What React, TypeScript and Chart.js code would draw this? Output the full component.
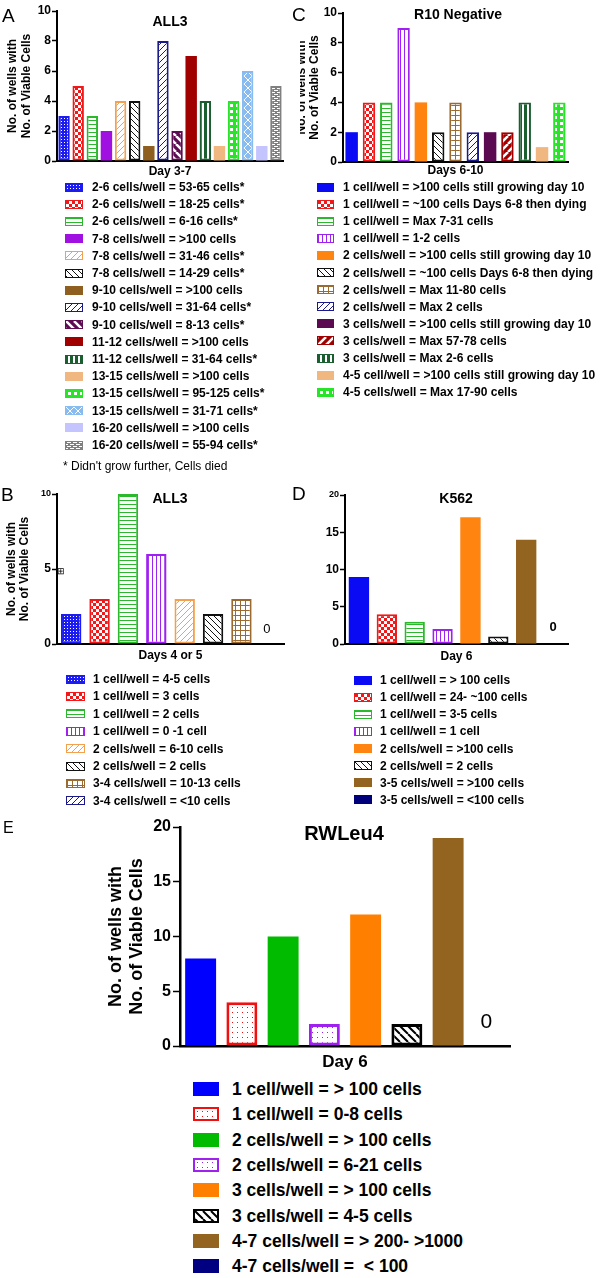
import React, { useEffect, useMemo, useRef } from 'react';
import { Chart, registerables } from 'chart.js';

Chart.register(...registerables);

const FONT = 'Arial, "Liberation Sans", Helvetica, sans-serif';
Chart.defaults.font.family = FONT;
Chart.defaults.color = '#000';

// ---------------- Panel A (ALL3, Day 3-7) ----------------
const aLabels = [
  '2-6 cells/well = 53-65 cells*',
  '2-6 cells/well = 18-25 cells*',
  '2-6 cells/well = 6-16 cells*',
  '7-8 cells/well = >100 cells',
  '7-8 cells/well = 31-46 cells*',
  '7-8 cells/well = 14-29 cells*',
  '9-10 cells/well = >100 cells',
  '9-10 cells/well = 31-64 cells*',
  '9-10 cells/well = 8-13 cells*',
  '11-12 cells/well = >100 cells',
  '11-12 cells/well = 31-64 cells*',
  '13-15 cells/well = >100 cells',
  '13-15 cells/well = 95-125 cells*',
  '13-15 cells/well = 31-71 cells*',
  '16-20 cells/well = >100 cells',
  '16-20 cells/well = 55-94 cells*',
];
const aValues = [3, 5, 3, 2, 4, 4, 1, 8, 2, 7, 4, 1, 4, 6, 1, 5];
const aColors = ['#1c1cf0', '#f01818', '#2cb82c', '#a010e0', '#f5a04a', '#111111', '#8f5f1f', '#1a1a8a',
  '#5e0d52', '#a00000', '#1b5e30', '#f0b880', '#28e428', '#88bbf0', '#c4c4ff', '#808080'];
const aPatterns = ['fineDots', 'checker', 'hlines', 'solid', 'diagR', 'diagL', 'solid', 'diagR',
  'thickDiagL', 'solid', 'vstripes', 'solid', 'gridThick', 'diamond', 'solid', 'brick'];

// ---------------- Panel C (R10 Negative, Days 6-10) ----------------
const cLabels = [
  '1 cell/well = >100 cells still growing day 10',
  '1 cell/well = ~100 cells Days 6-8 then dying',
  '1 cell/well = Max 7-31 cells',
  '1 cell/well = 1-2 cells',
  '2 cells/well = >100 cells still growing day 10',
  '2 cells/well = ~100 cells Days 6-8 then dying',
  '2 cells/well = Max 11-80 cells',
  '2 cells/well = Max 2 cells',
  '3 cells/well = >100 cells still growing day 10',
  '3 cells/well = Max 57-78 cells',
  '3 cells/well = Max 2-6 cells',
  '4-5 cell/well = >100 cells still growing day 10',
  '4-5 cells/well = Max 17-90 cells',
];
const cValues = [2, 4, 4, 9, 4, 2, 4, 2, 2, 2, 4, 1, 4];
const cColors = ['#0a0af5', '#f01818', '#2cb82c', '#a020f0', '#ff8410', '#111111', '#9a6a30', '#1a1a8a',
  '#5b0950', '#a00000', '#1b5e30', '#f0b880', '#28e428'];
const cPatterns = ['solid', 'checker', 'hlines', 'vlines', 'solid', 'diagL', 'gridThin', 'diagR',
  'solid', 'thickDiagR', 'vstripes', 'solid', 'gridThick'];

// ---------------- Panel B (ALL3, Days 4 or 5) ----------------
const bLabels = [
  '1 cell/well = 4-5 cells',
  '1 cell/well = 3 cells',
  '1 cell/well = 2 cells',
  '1 cell/well = 0 -1 cell',
  '2 cells/well = 6-10 cells',
  '2 cells/well = 2 cells',
  '3-4 cells/well = 10-13 cells',
  '3-4 cells/well = <10 cells',
];
const bValues = [2, 3, 10, 6, 3, 2, 3, 0];
const bColors = ['#1c1cf0', '#f01818', '#2cb82c', '#a020f0', '#f5a04a', '#111111', '#9a6a30', '#1a1a8a'];
const bPatterns = ['fineDots', 'checker', 'hlines', 'vlines', 'diagR', 'diagL', 'gridThin', 'diagR'];

// ---------------- Panel D (K562, Day 6) ----------------
const dLabels = [
  '1 cell/well = > 100 cells',
  '1 cell/well = 24- ~100 cells',
  '1 cell/well = 3-5 cells',
  '1 cell/well = 1 cell',
  '2 cells/well = >100 cells',
  '2 cells/well = 2 cells',
  '3-5 cells/well = >100 cells',
  '3-5 cells/well = <100 cells',
];
const dValues = [9, 4, 3, 2, 17, 1, 14, 0];
const dColors = ['#0a0af5', '#f01818', '#2cb82c', '#a020f0', '#ff8410', '#111111', '#936420', '#00007a'];
const dPatterns = ['solid', 'checker', 'hlines', 'vlines', 'solid', 'diagL', 'solid', 'solid'];

// ---------------- Panel E (RWLeu4, Day 6) ----------------
const eLabels = [
  '1 cell/well = > 100 cells',
  '1 cell/well = 0-8 cells',
  '2 cells/well = > 100 cells',
  '2 cells/well = 6-21 cells',
  '3 cells/well = > 100 cells',
  '3 cells/well = 4-5 cells',
  '4-7 cells/well = > 200- >1000',
  '4-7 cells/well =  < 100',
];
const eValues = [8, 4, 10, 2, 12, 2, 19, 0];
const eColors = ['#0000ff', '#f01010', '#00bb00', '#a020f0', '#ff8000', '#000000', '#936420', '#000080'];
const ePatterns = ['solid', 'sparseDots', 'solid', 'sparseDots', 'solid', 'diagLBold', 'solid', 'solid'];

const yTitleLines = ['No. of wells with', 'No. of Viable Cells'];

// ---------------- pattern tiles ----------------
function makeTile(p: string, color: string): HTMLCanvasElement {
  const sizes: Record<string, [number, number]> = {
    solid: [4, 4], fineDots: [3, 3], checker: [6, 6], hlines: [4, 4], vlines: [4, 4],
    diagR: [6, 6], diagL: [6, 6], diagLBold: [8, 8], thickDiagL: [8, 8], thickDiagR: [8, 8],
    gridThin: [5, 5], gridThick: [6, 6], vstripes: [5, 5], diamond: [8, 8], brick: [6, 4], sparseDots: [5, 5],
  };
  const [w, h] = sizes[p] || [4, 4];
  const c = document.createElement('canvas');
  c.width = w;
  c.height = h;
  const g = c.getContext('2d')!;
  const fill = (col: string, x: number, y: number, ww: number, hh: number) => {
    g.fillStyle = col;
    g.fillRect(x, y, ww, hh);
  };
  const back = (col: string, lw: number) => {
    g.strokeStyle = col; g.lineWidth = lw; g.beginPath();
    for (const k of [-1, 0, 1]) { g.moveTo(k * w, 0); g.lineTo(k * w + w, h); }
    g.stroke();
  };
  const fwd = (col: string, lw: number) => {
    g.strokeStyle = col; g.lineWidth = lw; g.beginPath();
    for (const k of [-1, 0, 1]) { g.moveTo(k * w, h); g.lineTo(k * w + w, 0); }
    g.stroke();
  };
  switch (p) {
    case 'fineDots': fill(color, 0, 0, w, h); fill('#ffffff', 1, 1, 1, 1); break;
    case 'checker': fill('#ffffff', 0, 0, w, h); fill(color, 0, 0, 3, 3); fill(color, 3, 3, 3, 3); break;
    case 'hlines': fill('#ffffff', 0, 0, w, h); fill(color, 0, 0, w, 1); break;
    case 'vlines': fill('#ffffff', 0, 0, w, h); fill(color, 0, 0, 1, h); break;
    case 'diagR': fill('#ffffff', 0, 0, w, h); fwd(color, 1); break;
    case 'diagL': fill('#ffffff', 0, 0, w, h); back(color, 1); break;
    case 'diagLBold': fill('#ffffff', 0, 0, w, h); back(color, 2); break;
    case 'thickDiagL': fill(color, 0, 0, w, h); back('#ffffff', 2.5); break;
    case 'thickDiagR': fill(color, 0, 0, w, h); fwd('#ffffff', 2.5); break;
    case 'gridThin': fill('#ffffff', 0, 0, w, h); fill(color, 0, 0, w, 1); fill(color, 0, 0, 1, h); break;
    case 'gridThick': fill(color, 0, 0, w, h); fill('#ffffff', 2, 2, 3, 3); break;
    case 'vstripes': fill(color, 0, 0, w, h); fill('#ffffff', 2, 0, 2, h); break;
    case 'diamond': fill(color, 0, 0, w, h); back('#ffffff', 1); fwd('#ffffff', 1); break;
    case 'brick': fill(color, 0, 0, w, h); fill('#ffffff', 1, 0, 4, 1); fill('#ffffff', 4, 2, 2, 1); fill('#ffffff', 0, 2, 2, 1); break;
    case 'sparseDots': fill('#ffffff', 0, 0, w, h); fill(color, 2, 2, 1, 1); break;
    default: fill(color, 0, 0, w, h);
  }
  return c;
}

const zeroLabelPlugin = {
  id: 'zeroLabel',
  afterDatasetsDraw(chart: any, _args: any, opts: any) {
    if (!opts || !opts.font) return;
    const { ctx } = chart;
    const xs = chart.scales.x;
    const ys = chart.scales.y;
    const data = chart.data.datasets[0].data as number[];
    ctx.save();
    ctx.font = opts.font;
    ctx.fillStyle = '#000';
    ctx.textAlign = 'center';
    ctx.textBaseline = 'middle';
    data.forEach((v, i) => {
      if (v === 0) ctx.fillText('0', xs.getPixelForValue(i) - (opts.dx || 0), ys.getPixelForValue(0) - opts.offset);
    });
    ctx.restore();
  },
};

type PanelCfg = {
  left: number; top: number; width: number; height: number;
  area: { left: number; right: number; top: number; bottom: number };
  labels: string[]; values: number[]; colors: string[]; patterns: string[];
  yMax: number; yStep: number;
  tickSize: number; topTickSize: number; tickLength: number; tickPadding: number; axisWidth: number;
  yTitle?: { size: number; lineHeight: number; padTop: number };
  xTitle: { text: string; size: number; padBottom: number };
  barPct: number; borderW: number;
  zero?: { font: string; offset: number; dx?: number };
};

function ChartPanel({ cfg }: { cfg: PanelCfg }) {
  const ref = useRef<HTMLCanvasElement>(null);
  useEffect(() => {
    const canvas = ref.current!;
    const ctx = canvas.getContext('2d')!;
    const bg = cfg.patterns.map((p, i) =>
      p === 'solid' ? cfg.colors[i] : (ctx.createPattern(makeTile(p, cfg.colors[i]), 'repeat') as any));
    const chart = new Chart(canvas, {
      type: 'bar',
      data: {
        labels: cfg.labels,
        datasets: [{
          data: cfg.values,
          backgroundColor: bg,
          borderColor: cfg.colors,
          borderWidth: cfg.patterns.map((p) => (p === 'solid' ? 0 : cfg.borderW)),
          borderSkipped: false,
          barPercentage: cfg.barPct,
          categoryPercentage: 1,
        }],
      },
      options: {
        responsive: false,
        animation: false,
        devicePixelRatio: 1,
        layout: { padding: { left: 0, top: cfg.area.top, right: cfg.width - cfg.area.right, bottom: 0 } },
        plugins: {
          legend: { display: false },
          tooltip: { enabled: false },
          title: { display: false },
          zeroLabel: cfg.zero || {},
        } as any,
        scales: {
          x: {
            type: 'category',
            offset: true,
            grid: { display: false },
            border: { display: true, color: '#000', width: cfg.axisWidth },
            ticks: { display: false },
            title: {
              display: true,
              text: cfg.xTitle.text,
              color: '#000',
              font: { size: cfg.xTitle.size, weight: 'bold', lineHeight: 1.2 },
              padding: { top: 0, bottom: cfg.xTitle.padBottom },
            },
            afterFit: (s: any) => { s.height = cfg.height - cfg.area.bottom; },
          },
          y: {
            min: 0,
            max: cfg.yMax,
            ticks: {
              stepSize: cfg.yStep,
              padding: cfg.tickPadding,
              color: '#000',
              font: (c: any) => ({
                size: c.tick && c.tick.value === cfg.yMax ? cfg.topTickSize : cfg.tickSize,
                weight: 'bold',
              }),
            },
            grid: {
              display: true, drawOnChartArea: false, drawTicks: true,
              tickLength: cfg.tickLength, tickColor: '#000', tickWidth: 1.5,
            },
            border: { display: true, color: '#000', width: cfg.axisWidth },
            title: cfg.yTitle
              ? {
                display: true,
                text: yTitleLines,
                color: '#000',
                font: { size: cfg.yTitle.size, weight: 'bold', lineHeight: cfg.yTitle.lineHeight },
                padding: { top: cfg.yTitle.padTop, bottom: 0 },
              }
              : { display: false },
            afterFit: (s: any) => { s.width = cfg.area.left; },
          },
        } as any,
      },
      plugins: [zeroLabelPlugin as any],
    });
    return () => chart.destroy();
  }, []);
  return (
    <canvas
      ref={ref}
      width={cfg.width}
      height={cfg.height}
      style={{ position: 'absolute', left: cfg.left, top: cfg.top, width: cfg.width, height: cfg.height }}
    />
  );
}

type LegendCfg = {
  labels: string[]; colors: string[]; patterns: string[];
  x: number; y0: number; step: number; sw: number; sh: number; textX: number; size: number; borderW: number;
};

function Legend({ cfg }: { cfg: LegendCfg }) {
  const urls = useMemo(
    () => cfg.patterns.map((p, i) => (p === 'solid' ? null : makeTile(p, cfg.colors[i]).toDataURL())),
    [],
  );
  return (
    <>
      {cfg.labels.map((l, i) => (
        <div
          key={i}
          style={{
            position: 'absolute', left: cfg.x, top: cfg.y0 + i * cfg.step - 12, height: 24,
            display: 'flex', alignItems: 'center', whiteSpace: 'pre',
          }}
        >
          <div
            style={{
              width: cfg.sw, height: cfg.sh, boxSizing: 'border-box', flex: 'none',
              background: urls[i] ? `url(${urls[i]})` : cfg.colors[i],
              border: urls[i] ? `${cfg.borderW}px solid ${cfg.colors[i]}` : 'none',
            }}
          />
          <span
            style={{
              marginLeft: cfg.textX - cfg.x - cfg.sw, fontFamily: FONT, fontWeight: 'bold',
              fontSize: cfg.size, lineHeight: '24px', color: '#000',
            }}
          >
            {l}
          </span>
        </div>
      ))}
    </>
  );
}

function Text({ x, y, text, size, bold, align = 'left', w = 200 }:
  { x: number; y: number; text: string; size: number; bold?: boolean; align?: 'left' | 'center'; w?: number }) {
  return (
    <div
      style={{
        position: 'absolute', left: align === 'center' ? x - w / 2 : x, top: y - size / 2,
        width: align === 'center' ? w : undefined, textAlign: align, fontFamily: FONT,
        fontSize: size, lineHeight: `${size}px`, fontWeight: bold ? 'bold' : 'normal',
        color: '#000', whiteSpace: 'pre',
      }}
    >
      {text}
    </div>
  );
}

const panelA: PanelCfg = {
  left: 0, top: 0, width: 300, height: 180,
  area: { left: 57, right: 283, top: 11, bottom: 161 },
  labels: aLabels, values: aValues, colors: aColors, patterns: aPatterns,
  yMax: 10, yStep: 2, tickSize: 12, topTickSize: 12, tickLength: 5, tickPadding: 1, axisWidth: 2,
  yTitle: { size: 12, lineHeight: 1.1, padTop: 6.4 },
  xTitle: { text: 'Day 3-7', size: 12, padBottom: 0.8 },
  barPct: 0.81, borderW: 2,
};
const panelC: PanelCfg = {
  left: 300, top: 0, width: 300, height: 180,
  area: { left: 43, right: 268, top: 13, bottom: 162 },
  labels: cLabels, values: cValues, colors: cColors, patterns: cPatterns,
  yMax: 10, yStep: 2, tickSize: 12, topTickSize: 12, tickLength: 5, tickPadding: 1, axisWidth: 2,
  yTitle: { size: 12, lineHeight: 1.1, padTop: -5 },
  xTitle: { text: 'Days 6-10', size: 12, padBottom: 1.8 },
  barPct: 0.72, borderW: 2,
};
const panelB: PanelCfg = {
  left: 0, top: 480, width: 300, height: 190,
  area: { left: 57, right: 284, top: 14, bottom: 164 },
  labels: bLabels, values: bValues, colors: bColors, patterns: bPatterns,
  yMax: 10, yStep: 5, tickSize: 12, topTickSize: 9, tickLength: 5, tickPadding: 1, axisWidth: 2,
  yTitle: { size: 12, lineHeight: 1.1, padTop: 5 },
  xTitle: { text: 'Days 4 or 5', size: 12, padBottom: 6.8 },
  barPct: 0.72, borderW: 2,
  zero: { font: `13px ${FONT}`, offset: 15, dx: 3 },
};
const panelD: PanelCfg = {
  left: 300, top: 480, width: 300, height: 190,
  area: { left: 45, right: 268, top: 15, bottom: 164 },
  labels: dLabels, values: dValues, colors: dColors, patterns: dPatterns,
  yMax: 20, yStep: 5, tickSize: 12, topTickSize: 9, tickLength: 5, tickPadding: 1, axisWidth: 2,
  xTitle: { text: 'Day 6', size: 12, padBottom: 5.8 },
  barPct: 0.73, borderW: 2,
  zero: { font: `bold 13px ${FONT}`, offset: 17, dx: 1 },
};
const panelE: PanelCfg = {
  left: 0, top: 810, width: 600, height: 265,
  area: { left: 180, right: 510, top: 17, bottom: 236 },
  labels: eLabels, values: eValues, colors: eColors, patterns: ePatterns,
  yMax: 20, yStep: 5, tickSize: 16, topTickSize: 16, tickLength: 7, tickPadding: 2, axisWidth: 2.5,
  yTitle: { size: 18, lineHeight: 1.2, padTop: 105 },
  xTitle: { text: 'Day 6', size: 17, padBottom: 2.8 },
  barPct: 0.75, borderW: 3,
  zero: { font: `21px ${FONT}`, offset: 24, dx: 3 },
};

const legendA: LegendCfg = { labels: aLabels, colors: aColors, patterns: aPatterns, x: 65, y0: 187, step: 17.2, sw: 18, sh: 9, textX: 92, size: 12, borderW: 1.5 };
const legendC: LegendCfg = { labels: cLabels, colors: cColors, patterns: cPatterns, x: 317, y0: 187, step: 17.1, sw: 17, sh: 9, textX: 343, size: 12, borderW: 1.5 };
const legendB: LegendCfg = { labels: bLabels, colors: bColors, patterns: bPatterns, x: 66, y0: 679, step: 17.4, sw: 19, sh: 9, textX: 93, size: 12, borderW: 1.5 };
const legendD: LegendCfg = { labels: dLabels, colors: dColors, patterns: dPatterns, x: 354, y0: 680, step: 17.14, sw: 18, sh: 9, textX: 380, size: 12, borderW: 1.5 };
const legendE: LegendCfg = { labels: eLabels, colors: eColors, patterns: ePatterns, x: 193, y0: 1089, step: 25.3, sw: 26, sh: 14, textX: 232, size: 17.5, borderW: 2.5 };

export default function App() {
  return (
    <div style={{ position: 'absolute', left: 0, top: 0, width: 600, height: 1278, background: '#fff', overflow: 'hidden' }}>
      <ChartPanel cfg={panelA} />
      <ChartPanel cfg={panelC} />
      <ChartPanel cfg={panelB} />
      <ChartPanel cfg={panelD} />
      <ChartPanel cfg={panelE} />

      <Legend cfg={legendA} />
      <Legend cfg={legendC} />
      <Legend cfg={legendB} />
      <Legend cfg={legendD} />
      <Legend cfg={legendE} />

      <Text x={63} y={466} text={"* Didn't grow further, Cells died"} size={12} />

      <Text x={2} y={15} text="A" size={19} />
      <Text x={292} y={14} text="C" size={19} />
      <Text x={1} y={494} text="B" size={19} />
      <Text x={292} y={493} text="D" size={19} />
      <Text x={3} y={828} text="E" size={16} />

      <Text x={170} y={21} text="ALL3" size={14} bold align="center" />
      <Text x={458} y={14} text="R10 Negative" size={14} bold align="center" />
      <Text x={170} y={498} text="ALL3" size={14} bold align="center" />
      <Text x={456} y={498} text="K562" size={14} bold align="center" />
      <Text x={344} y={833} text="RWLeu4" size={20} bold align="center" />

      <Text x={57} y={571} text="⊞" size={9} />
    </div>
  );
}
